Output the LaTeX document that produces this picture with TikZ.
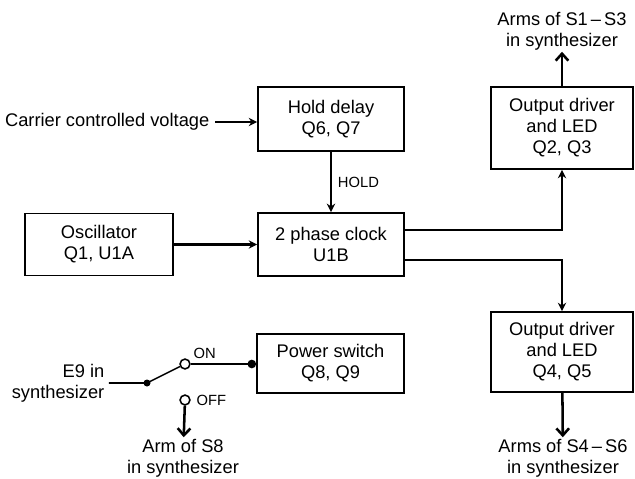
\documentclass[tikz,border=0pt]{standalone}
\usepackage{fontspec}
\setmainfont{Liberation Sans}
\usetikzlibrary{arrows.meta, positioning, calc}

\tikzset{
  block/.style={draw, line width=1.2pt, align=center, inner sep=2pt,
    font=\fontsize{13}{15}\selectfont},
  lbl/.style={align=center, inner sep=1pt, font=\fontsize{13}{15}\selectfont},
  tag/.style={inner sep=2pt, font=\fontsize{10.5}{12}\selectfont},
  sig/.style={line width=1.8pt, -{Stealth[length=6pt,width=6pt]}},
  outarr/.style={line width=1.8pt, -{Straight Barb[length=5pt,width=9pt]}},
  wire/.style={line width=1.1pt},
  contact/.style={circle, draw, line width=1.1pt, inner sep=0pt, minimum size=7pt},
}

\begin{document}
\begin{tikzpicture}[x=0.025cm, y=-0.025cm]
\useasboundingbox (0,0) rectangle (635,478);

% blocks
\node[block, minimum width=3.65cm, minimum height=1.6cm] (hold) at (331,119) {Hold delay\\Q6, Q7};
\node[block, minimum width=3.65cm, minimum height=1.58cm] (clock) at (331,244.5) {2 phase clock\\U1B};
\node[block, minimum width=3.7cm, minimum height=1.55cm] (osc) at (99,244.5) {Oscillator\\Q1, U1A};
\node[block, minimum width=3.55cm, minimum height=2.05cm] (drvA) at (562,128) {Output driver\\and LED\\Q2, Q3};
\node[block, minimum width=3.55cm, minimum height=2cm] (drvB) at (562,352) {Output driver\\and LED\\Q4, Q5};
\node[block, minimum width=3.68cm, minimum height=1.48cm] (power) at (330.5,363.5) {Power switch\\Q8, Q9};

% outside signals
\node[lbl, anchor=east] (ccv) at (211,122) {Carrier controlled voltage};
\node[lbl] (armsA) at (562,31) {Arms of S1\,--\,S3\\in synthesizer};
\node[lbl] (armsB) at (563,458) {Arms of S4\,--\,S6\\in synthesizer};
\node[lbl] (arm8) at (183,458) {Arm of S8\\in synthesizer};
\node[lbl, align=right, anchor=east] (e9) at (106,383) {E9 in\\synthesizer};

% connections
\draw[sig] ([xshift=3pt]ccv.east) -- (ccv.east -| hold.west);
\draw[sig] (osc) -- (osc -| clock.west);
\draw[sig] (hold) -- node[tag, right=2pt] (holdlbl) {HOLD} (clock);
\draw[sig] ($(clock.east)+(0,-14.5)$) -| (drvA);
\draw[sig] ($(clock.east)+(0,15.5)$) -| (drvB);
\draw[outarr] (drvA) -- (armsA);
\draw[outarr] (drvB) -- (armsB);

% power switch contacts
\coordinate (pivot) at (147,383);
\node[contact] (on) at (185,364) {};
\node[contact] (off) at (185,400) {};
\node[tag, above right=-1pt and 1pt] (onlbl) at (on.north east) {ON};
\node[tag, right=2pt] (offlbl) at (off.east) {OFF};
\draw[wire] ([xshift=2pt]e9.east) -- (pivot) -- (on);
\fill (pivot) circle (3.5);
\draw[line width=1.8pt, -{Circle[length=6pt]}] (on) -- (on -| power.west);
\draw[outarr] (off) -- (arm8);
\end{tikzpicture}
\end{document}
